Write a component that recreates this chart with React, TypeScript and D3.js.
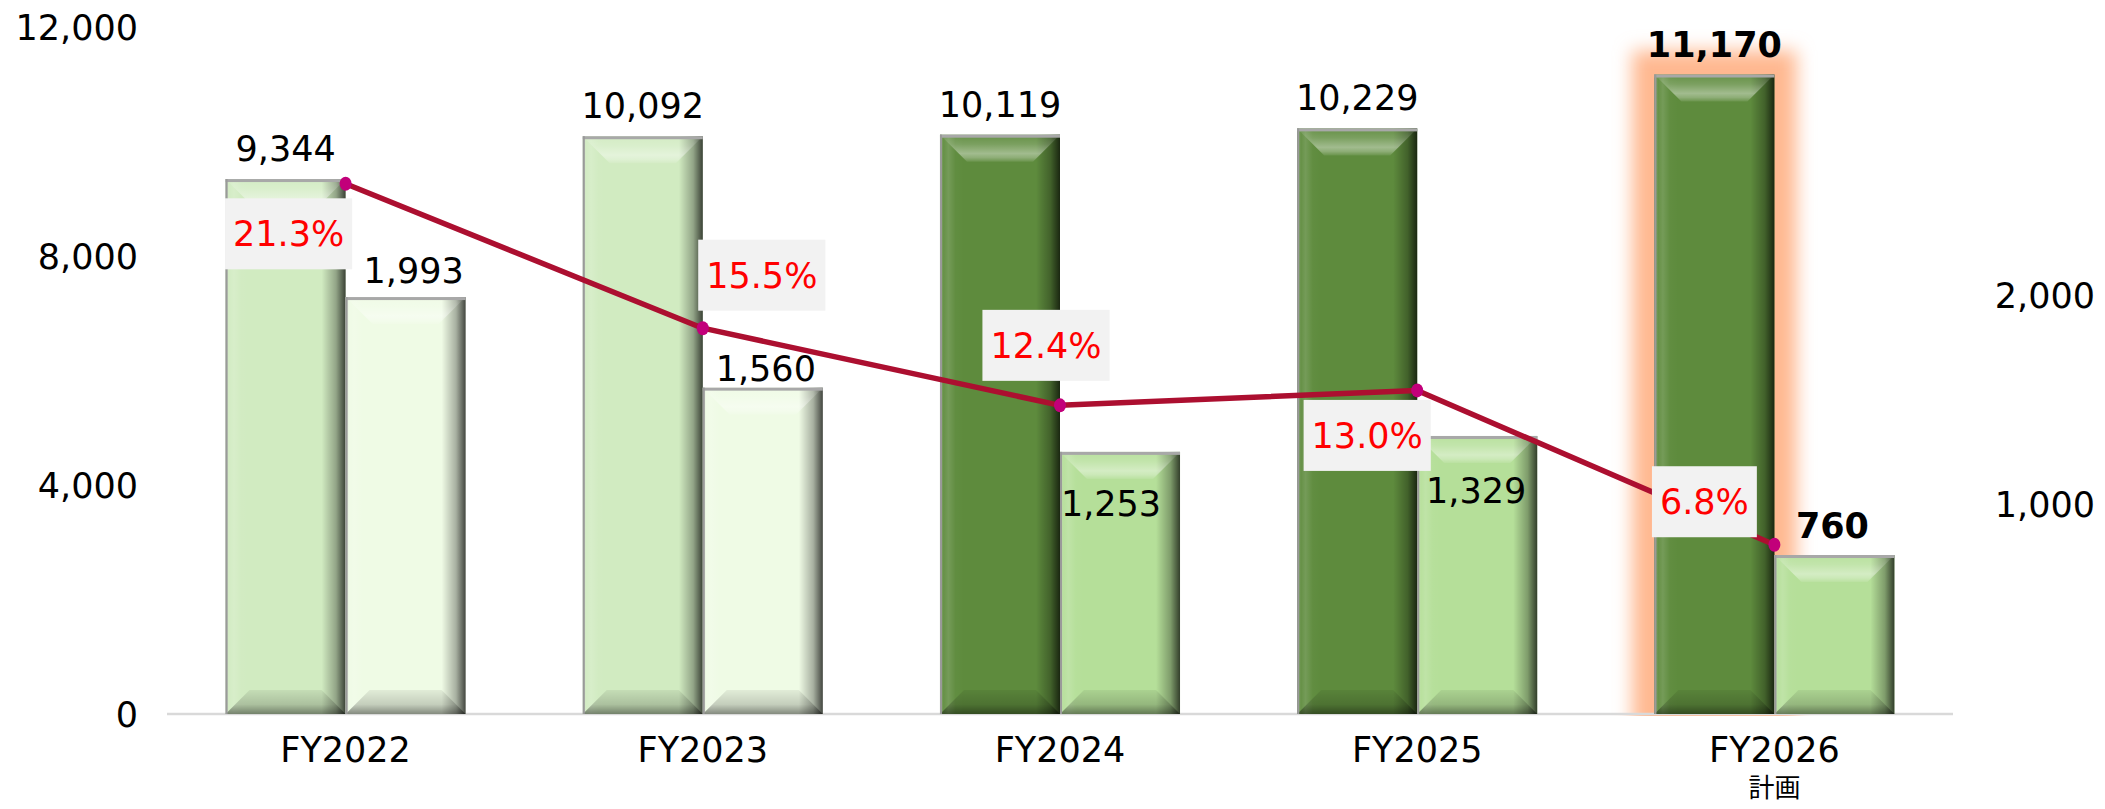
import React from 'react';
import * as d3 from 'd3';

const categories = ['FY2022', 'FY2023', 'FY2024', 'FY2025', 'FY2026'];
const subLabels = ['', '', '', '', '計画'];
const salesValues = [9344, 10092, 10119, 10229, 11170];
const profitValues = [1993, 1560, 1253, 1329, 760];
const marginValues = [21.3, 15.5, 12.4, 13.0, 6.8];
const leftTicks = [0, 4000, 8000, 12000];
const rightTicks = [1000, 2000];

const salesColors = ['#D1EBC1', '#D1EBC1', '#5E8B3D', '#5E8B3D', '#5E8B3D'];
const profitColors = ['#EFFBE5', '#EFFBE5', '#B5DF99', '#B5DF99', '#B5DF99'];
const boldLabels = [false, false, false, false, true];
// label layout offsets (px)
const pctOffsets = [[-57, 50], [59, -53], [-14, -60], [-50, 45], [-70, -43]];
const profitLabelDy = [-14, -7, 64, 67, -17];
const profitLabelDx = [8, 3, -9, -1, -2];

const FONT = '"DejaVu Sans", Verdana, sans-serif';
const fmt = d3.format(',');

function textWidth(s: string, size: number) {
  let w = 0;
  for (const ch of s) {
    if (ch === '.' || ch === ',') w += 0.318;
    else if (ch === '%') w += 0.95;
    else w += 0.636;
  }
  return w * size;
}

function BevelBar({ x, y, w, h, color }: { x: number; y: number; w: number; h: number; color: string }) {
  const b = Math.min(27, h / 2, w / 2);
  const bb = Math.min(24, h / 2, w / 2);
  const top = `${x},${y} ${x + w},${y} ${x + w - b},${y + b} ${x + b},${y + b}`;
  const bot = `${x},${y + h} ${x + w},${y + h} ${x + w - bb},${y + h - bb} ${x + bb},${y + h - bb}`;
  return (
    <g>
      <rect x={x} y={y} width={w} height={h} fill={color} />
      <rect x={x} y={y} width={w} height={h} fill="url(#hShade)" />
      <polygon points={top} fill="url(#topBevel)" />
      <polygon points={bot} fill="url(#botBevel)" />
      <rect x={x} y={y} width={w} height={3} fill="#A8A8A8" />
      <rect x={x} y={y} width={2} height={h} fill="#9A9A9A" />
    </g>
  );
}

export default function App() {
  const W = 2105;
  const H = 809;
  const base = 714;
  const x0 = d3.scaleBand().domain(categories).range([167, 1953]).paddingInner(0.328).paddingOuter(0.164);
  const x1 = d3.scaleBand().domain(['sales', 'profit']).range([0, x0.bandwidth()]).padding(0);
  const yL = d3.scaleLinear().domain([0, 12000]).range([base, 27]);
  const yR = d3.scaleLinear().domain([0, 3284]).range([base, 27]);
  const yP = d3.scaleLinear().domain([0, 27.6]).range([base, 27]);

  const cx = (c: string) => (x0(c) as number) + x0.bandwidth() / 2;
  const line = d3
    .line<number>()
    .x((_, i) => cx(categories[i]))
    .y((d) => yP(d));

  const bw = x1.bandwidth();
  const lastX = (x0(categories[4]) as number) + (x1('sales') as number);
  const lastTop = yL(salesValues[4]);

  return (
    <svg width={W} height={H} style={{ position: 'absolute', left: 0, top: 0, background: '#fff' }} fontFamily={FONT}>
      <defs>
        <linearGradient id="hShade" x1="0" y1="0" x2="1" y2="0">
          <stop offset="0" stopColor="#707070" stopOpacity={0.5} />
          <stop offset="0.03" stopColor="#ffffff" stopOpacity={0.05} />
          <stop offset="0.07" stopColor="#ffffff" stopOpacity={0.14} />
          <stop offset="0.13" stopColor="#ffffff" stopOpacity={0.02} />
          <stop offset="0.2" stopColor="#ffffff" stopOpacity={0} />
          <stop offset="0.8" stopColor="#000000" stopOpacity={0} />
          <stop offset="0.92" stopColor="#000000" stopOpacity={0.3} />
          <stop offset="1" stopColor="#000000" stopOpacity={0.72} />
        </linearGradient>
        <linearGradient id="topBevel" x1="0" y1="0" x2="0" y2="1">
          <stop offset="0" stopColor="#ffffff" stopOpacity={0.05} />
          <stop offset="0.35" stopColor="#ffffff" stopOpacity={0.18} />
          <stop offset="0.7" stopColor="#ffffff" stopOpacity={0.42} />
          <stop offset="0.85" stopColor="#ffffff" stopOpacity={0.3} />
          <stop offset="1" stopColor="#ffffff" stopOpacity={0.08} />
        </linearGradient>
        <linearGradient id="botBevel" x1="0" y1="0" x2="0" y2="1">
          <stop offset="0" stopColor="#000000" stopOpacity={0.06} />
          <stop offset="0.6" stopColor="#000000" stopOpacity={0.18} />
          <stop offset="1" stopColor="#000000" stopOpacity={0.45} />
        </linearGradient>
        <filter id="glow" x="-50%" y="-20%" width="200%" height="140%">
          <feGaussianBlur stdDeviation="9" />
        </filter>
        <clipPath id="baseClip">
          <rect x={0} y={0} width={W} height={base + 2} />
        </clipPath>
      </defs>

      {/* glow behind plan bar */}
      <g clipPath="url(#baseClip)">
        <rect x={lastX - 22} y={lastTop - 24} width={bw + 44} height={base - lastTop + 60} fill="#FFB890" filter="url(#glow)" />
      </g>

      {/* axis line */}
      <line x1={167} x2={1953} y1={base} y2={base} stroke="#D9D9D9" strokeWidth={2.5} />

      {/* bars */}
      {categories.map((c, i) => {
        const gx = x0(c) as number;
        const sx = gx + (x1('sales') as number);
        const px = gx + (x1('profit') as number);
        const sy = yL(salesValues[i]);
        const py = yR(profitValues[i]);
        return (
          <g key={c}>
            <BevelBar x={sx} y={sy} w={bw} h={base - sy} color={salesColors[i]} />
            <BevelBar x={px} y={py} w={bw} h={base - py} color={profitColors[i]} />
          </g>
        );
      })}

      {/* left axis labels */}
      {leftTicks.map((t) => (
        <text key={t} x={138} y={yL(t)} dy="0.36em" textAnchor="end" fontSize={35} fill="#000">
          {fmt(t)}
        </text>
      ))}
      {/* right axis labels */}
      {rightTicks.map((t) => (
        <text key={t} x={2095} y={yR(t)} dy="0.36em" textAnchor="end" fontSize={35} fill="#000">
          {fmt(t)}
        </text>
      ))}

      {/* category labels */}
      {categories.map((c, i) => (
        <g key={c}>
          <text x={cx(c)} y={762} textAnchor="middle" fontSize={35} fill="#000">
            {c}
          </text>
          {subLabels[i] && (
            <text x={cx(c)} y={797} textAnchor="middle" fontSize={26} fill="#000" fontFamily='"Noto Sans CJK JP", sans-serif'>
              {subLabels[i]}
            </text>
          )}
        </g>
      ))}

      {/* margin line */}
      <path d={line(marginValues) || ''} fill="none" stroke="#AC0F30" strokeWidth={5.5} strokeLinejoin="round" />
      {marginValues.map((v, i) => (
        <ellipse key={i} cx={cx(categories[i])} cy={yP(v)} rx={6} ry={7} fill="#C2007A" />
      ))}

      {/* value labels */}
      {categories.map((c, i) => {
        const gx = x0(c) as number;
        const sx = gx + (x1('sales') as number) + bw / 2;
        const px = gx + (x1('profit') as number) + bw / 2;
        return (
          <g key={c}>
            <text x={sx} y={yL(salesValues[i]) - 18} textAnchor="middle" fontSize={35} fontWeight={boldLabels[i] ? 'bold' : 'normal'} fill="#000">
              {fmt(salesValues[i])}
            </text>
            <text x={px + profitLabelDx[i]} y={yR(profitValues[i]) + profitLabelDy[i]} textAnchor="middle" fontSize={35} fontWeight={boldLabels[i] ? 'bold' : 'normal'} fill="#000">
              {fmt(profitValues[i])}
            </text>
          </g>
        );
      })}

      {/* percent labels */}
      {marginValues.map((v, i) => {
        const label = `${v.toFixed(1)}%`;
        const px = cx(categories[i]) + pctOffsets[i][0];
        const py = yP(v) + pctOffsets[i][1];
        const tw = textWidth(label, 35) + 16;
        return (
          <g key={i}>
            <rect x={px - tw / 2} y={py - 35.5} width={tw} height={71} fill="#F2F2F2" />
            <text x={px} y={py} dy="0.36em" textAnchor="middle" fontSize={35} fill="#FF0000">
              {label}
            </text>
          </g>
        );
      })}
    </svg>
  );
}
